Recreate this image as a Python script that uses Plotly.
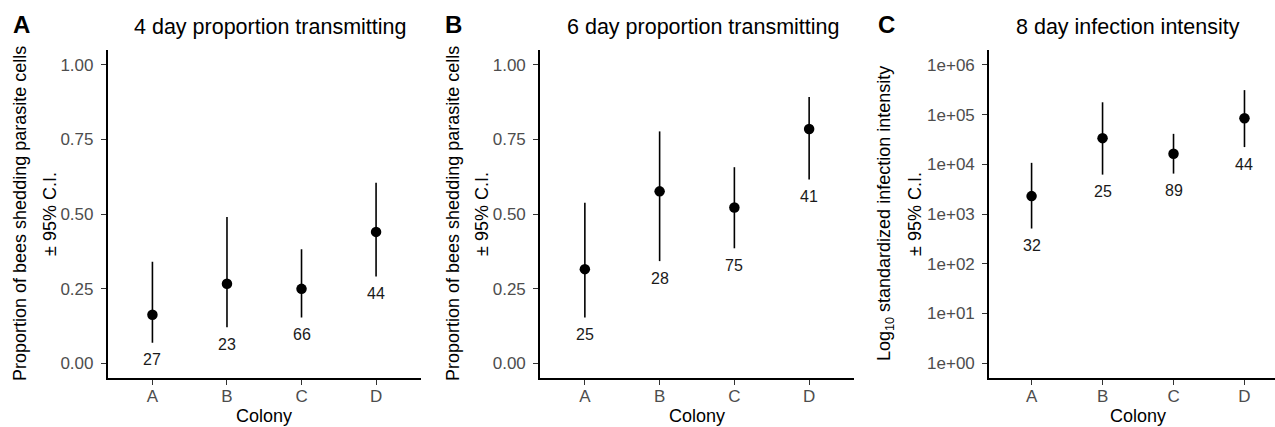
import numpy as np
import plotly.graph_objects as go

W, H = 1275, 427
FONT = "Liberation Sans, Arial, Helvetica, sans-serif"

colonies = ["A", "B", "C", "D"]

# Panel A: 4 day proportion transmitting
a_mean = [0.162, 0.266, 0.249, 0.440]
a_low = [0.068, 0.120, 0.153, 0.290]
a_high = [0.340, 0.490, 0.382, 0.605]
a_n = ["27", "23", "66", "44"]

# Panel B: 6 day proportion transmitting
b_mean = [0.315, 0.576, 0.522, 0.785]
b_low = [0.153, 0.342, 0.385, 0.616]
b_high = [0.538, 0.777, 0.657, 0.892]
b_n = ["25", "28", "75", "41"]

# Panel C: 8 day infection intensity
c_mean = [2290, 33600, 16300, 84400]
c_low = [510, 6200, 6500, 22200]
c_high = [10700, 177000, 41000, 311000]
c_n = ["32", "25", "89", "44"]

titles = ["4 day proportion transmitting", "6 day proportion transmitting", "8 day infection intensity"]
panel_letters = ["A", "B", "C"]
prop_ticks = [0.0, 0.25, 0.5, 0.75, 1.0]
log_ticks = [1, 10, 100, 1000, 10000, 100000, 1000000]
log_ticktext = ["1e+00", "1e+01", "1e+02", "1e+03", "1e+04", "1e+05", "1e+06"]
ytitle_prop = "Proportion of bees shedding parasite cells"
ytitle_log = "Log<sub>10</sub> standardized infection intensity"
ytitle_ci = "± 95% C.I."
xtitle = "Colony"


def px(x):
    return x / W


def py(y):
    return 1 - y / H


y_dom = [py(378), py(50)]
x_doms = [[px(107.7), px(420.8)], [px(540), px(854)], [px(989), px(1275)]]
x_ranges = [[0.4, 4.6], [0.4, 4.6], [0.4, 4.43]]

fig = go.Figure()

panels = [
    (a_mean, a_low, a_high, a_n),
    (b_mean, b_low, b_high, b_n),
    (c_mean, c_low, c_high, c_n),
]
xpos = [1, 2, 3, 4]
for i, (m, lo, hi, n) in enumerate(panels):
    xa = "x" if i == 0 else f"x{i+1}"
    ya = "y" if i == 0 else f"y{i+1}"
    fig.add_trace(go.Scatter(
        x=xpos, y=m, mode="markers", xaxis=xa, yaxis=ya,
        marker=dict(color="black", size=10.5),
        error_y=dict(type="data", symmetric=False,
                     array=[h - v for h, v in zip(hi, m)],
                     arrayminus=[v - l for v, l in zip(m, lo)],
                     width=0, thickness=1.6, color="black"),
        showlegend=False, hoverinfo="skip",
    ))
    for xv, l, t in zip(xpos, lo, n):
        yv = np.log10(l) if i == 2 else l
        fig.add_annotation(x=xv, y=yv, xref=xa, yref=ya, text=t, showarrow=False,
                           yanchor="middle", yshift=-17,
                           font=dict(family=FONT, size=16, color="#1a1a1a"))

axis_common = dict(showline=True, linecolor="black", linewidth=1.6, showgrid=False,
                   zeroline=False, ticks="outside", ticklen=5, tickwidth=1.4,
                   tickcolor="#333333", tickfont=dict(family=FONT, size=17, color="#4d4d4d"))

for i in range(3):
    xk = "xaxis" if i == 0 else f"xaxis{i+1}"
    yk = "yaxis" if i == 0 else f"yaxis{i+1}"
    ya = "y" if i == 0 else f"y{i+1}"
    xa = "x" if i == 0 else f"x{i+1}"
    fig.layout[xk] = dict(axis_common, domain=x_doms[i], range=x_ranges[i], anchor=ya,
                          tickvals=xpos, ticktext=colonies, ticklabelstandoff=-3)
    if i < 2:
        fig.layout[yk] = dict(axis_common, domain=y_dom, range=[-0.05, 1.05], anchor=xa,
                              tickvals=prop_ticks, tickformat=".2f", ticklabelstandoff=4)
    else:
        fig.layout[yk] = dict(axis_common, domain=y_dom, type="log", range=[-0.3, 6.3], anchor=xa,
                              tickvals=log_ticks, ticktext=log_ticktext, ticklabelstandoff=4)

# titles, panel letters, axis titles
title_x = [270, 703, 1128]
letter_x = [21, 453, 886]
yt1_x = [20, 453, 885]
yt2_x = [50, 482, 915]
for i in range(3):
    fig.add_annotation(x=px(title_x[i]), y=py(27), xref="paper", yref="paper", text=titles[i],
                       showarrow=False, xanchor="center", yanchor="middle",
                       font=dict(family=FONT, size=21.5, color="black"))
    fig.add_annotation(x=px(letter_x[i]), y=py(25), xref="paper", yref="paper",
                       text="<b>" + panel_letters[i] + "</b>",
                       showarrow=False, xanchor="center", yanchor="middle",
                       font=dict(family=FONT, size=24, color="black"))
    fig.add_annotation(x=px(yt1_x[i]), y=py(214), xref="paper", yref="paper",
                       text=ytitle_log if i == 2 else ytitle_prop, textangle=-90,
                       showarrow=False, xanchor="center", yanchor="middle",
                       font=dict(family=FONT, size=18, color="black"))
    fig.add_annotation(x=px(yt2_x[i]), y=py(214), xref="paper", yref="paper",
                       text=ytitle_ci, textangle=-90,
                       showarrow=False, xanchor="center", yanchor="middle",
                       font=dict(family=FONT, size=18, color="black"))
    xc = (x_doms[i][0] + x_doms[i][1]) / 2 if i < 2 else px(1138)
    fig.add_annotation(x=xc, y=py(415.5), xref="paper", yref="paper", text=xtitle,
                       showarrow=False, xanchor="center", yanchor="middle",
                       font=dict(family=FONT, size=18, color="black"))

fig.update_layout(width=W, height=H, margin=dict(l=0, r=0, t=0, b=0),
                  paper_bgcolor="white", plot_bgcolor="white", showlegend=False)

fig.write_html("out.html", config={"displayModeBar": False},
               post_script="document.body.style.margin='0px';document.body.style.overflow='hidden';")
